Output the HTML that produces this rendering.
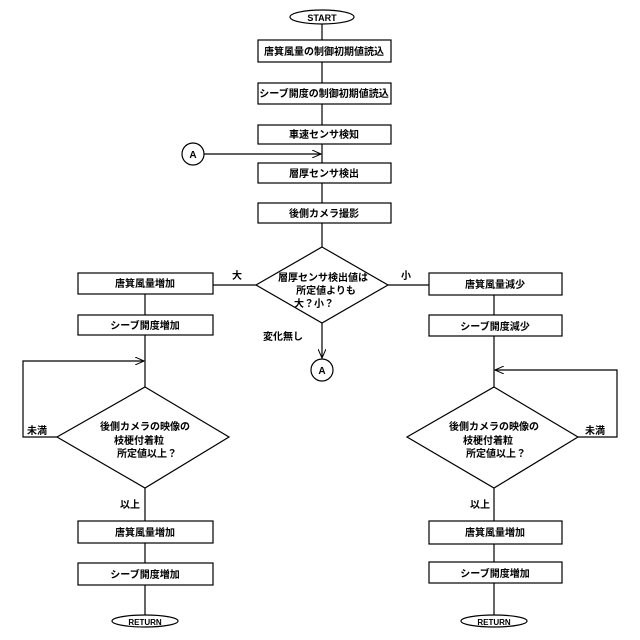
<!DOCTYPE html>
<html><head><meta charset="utf-8"><style>
html,body{margin:0;padding:0;background:#fff;}
svg{display:block;}
text{font-family:"Liberation Sans","Noto Sans CJK JP",sans-serif;font-size:10px;fill:#000;font-weight:bold;}
</style></head><body>
<svg width="640" height="640" viewBox="0 0 640 640" xmlns="http://www.w3.org/2000/svg">
<defs><marker id="ar" markerWidth="10" markerHeight="8" refX="9" refY="4" orient="auto" markerUnits="userSpaceOnUse"><path d="M0,0 L9,4 L0,8" fill="none" stroke="#000" stroke-width="1"/></marker></defs>
<g stroke="#000" stroke-width="1.2" fill="none">
<!-- center column -->
<ellipse cx="322" cy="17" rx="32" ry="7"/>
<line x1="322" y1="24" x2="322" y2="40"/>
<rect x="258" y="40" width="133" height="22"/>
<line x1="322" y1="62" x2="322" y2="83"/>
<rect x="258" y="83" width="133" height="21"/>
<line x1="322" y1="104" x2="322" y2="125"/>
<rect x="258" y="125" width="133" height="19"/>
<line x1="322" y1="144" x2="322" y2="163"/>
<circle cx="193" cy="154" r="11"/>
<line x1="204" y1="154" x2="321" y2="154" marker-end="url(#ar)"/>
<rect x="258" y="163" width="133" height="20"/>
<line x1="322" y1="183" x2="322" y2="203"/>
<rect x="258" y="203" width="133" height="20"/>
<line x1="322" y1="223" x2="322" y2="247"/>
<polygon points="322,247 388,285 322,323 256,285"/>
<line x1="322" y1="323" x2="322" y2="358" marker-end="url(#ar)"/>
<circle cx="322" cy="370" r="11"/>
<!-- left -->
<line x1="256" y1="285" x2="213" y2="285"/>
<rect x="78" y="273" width="135" height="21"/>
<line x1="145" y1="294" x2="145" y2="315"/>
<rect x="78" y="315" width="135" height="20"/>
<line x1="145" y1="335" x2="145" y2="387"/>
<polyline points="57,437 23,437 23,361 144,361" marker-end="url(#ar)"/>
<polygon points="145,387 229,437 145,488 57,437"/>
<line x1="145" y1="488" x2="145" y2="521"/>
<rect x="78" y="521" width="135" height="22"/>
<line x1="145" y1="543" x2="145" y2="563"/>
<rect x="78" y="563" width="135" height="22"/>
<line x1="145" y1="585" x2="145" y2="615"/>
<ellipse cx="145" cy="621" rx="33" ry="6"/>
<!-- right -->
<line x1="388" y1="285" x2="429" y2="285"/>
<rect x="429" y="273" width="133" height="22"/>
<line x1="494" y1="295" x2="494" y2="315"/>
<rect x="429" y="315" width="133" height="21"/>
<line x1="494" y1="336" x2="494" y2="387"/>
<polyline points="578,437 617,437 617,370 495,370" marker-end="url(#ar)"/>
<polygon points="494,387 578,437 494,488 407,437"/>
<line x1="494" y1="488" x2="494" y2="521"/>
<rect x="429" y="521" width="133" height="23"/>
<line x1="494" y1="544" x2="494" y2="562"/>
<rect x="429" y="562" width="133" height="21"/>
<line x1="494" y1="583" x2="494" y2="615"/>
<ellipse cx="494" cy="621" rx="33" ry="6"/>
</g>
<g text-anchor="middle">
<text x="322" y="21" style="font-size:9px">START</text>
<text x="324" y="55">唐箕風量の制御初期値読込</text>
<text x="324" y="97">シーブ開度の制御初期値読込</text>
<text x="324" y="138">車速センサ検知</text>
<text x="193" y="158">A</text>
<text x="324" y="177">層厚センサ検出</text>
<text x="324" y="217">後側カメラ撮影</text>
<text x="323" y="281">層厚センサ検出値は</text>
<text x="326" y="294">所定値よりも</text>
<text x="314" y="307">大？小？</text>
<text x="283" y="340">変化無し</text>
<text x="322" y="374">A</text>
<text x="237" y="279">大</text>
<text x="406" y="279">小</text>
<text x="145" y="287">唐箕風量増加</text>
<text x="145" y="329">シーブ開度増加</text>
<text x="145" y="430">後側カメラの映像の</text>
<text x="139" y="444">枝梗付着粒</text>
<text x="147" y="457">所定値以上？</text>
<text x="37" y="434">未満</text>
<text x="130" y="508">以上</text>
<text x="145" y="536">唐箕風量増加</text>
<text x="145" y="578">シーブ開度増加</text>
<text x="145" y="625" style="font-size:8px">RETURN</text>
<text x="495" y="288">唐箕風量減少</text>
<text x="495" y="330">シーブ開度減少</text>
<text x="494" y="430">後側カメラの映像の</text>
<text x="488" y="444">枝梗付着粒</text>
<text x="496" y="457">所定値以上？</text>
<text x="595" y="434">未満</text>
<text x="480" y="508">以上</text>
<text x="495" y="536">唐箕風量増加</text>
<text x="495" y="577">シーブ開度増加</text>
<text x="494" y="625" style="font-size:8px">RETURN</text>
</g>
</svg>
</body></html>
